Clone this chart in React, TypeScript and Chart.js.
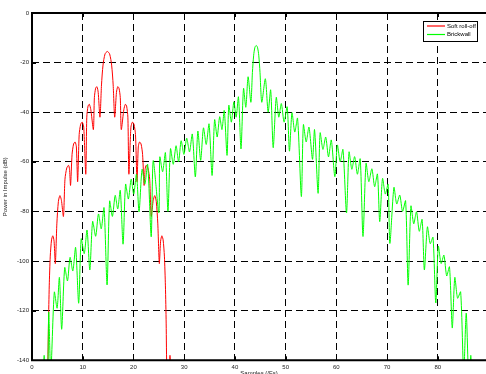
import React, { useEffect, useRef } from "react";
import { Chart, registerables } from "chart.js";

Chart.register(...registerables);

const xTicks = [0, 10, 20, 30, 40, 50, 60, 70, 80];
const yTicks = [-140, -120, -100, -80, -60, -40, -20, 0];
const seriesLabels = ["Soft roll-off", "Brickwall"];
const xTitle = "Samples (/Fs)";
const yTitle = "Power in Impulse (dB)";

// Soft roll-off (red)
const softX = [
  3.1, 3.25, 3.4, 3.6, 3.85, 4.1, 4.35, 4.6,
  4.9, 5.2, 5.5, 5.8, 6.2,
  6.5, 6.85, 7.2, 7.4, 7.6,
  7.9, 8.2, 8.5, 8.75, 9.0,
  9.3, 9.6, 9.9, 10.2, 10.6,
  10.8, 11.05, 11.3, 11.6, 12.1,
  12.3, 12.55, 12.8, 13.05, 13.4,
  13.7, 14.0, 14.4, 14.85, 15.3, 15.7, 16.0, 16.3,
  16.65, 16.9, 17.15, 17.4, 17.6,
  18.1, 18.4, 18.65, 18.9, 19.1,
  19.5, 19.8, 20.1, 20.4, 20.7,
  20.95, 21.2, 21.5, 21.8, 22.1,
  22.3, 22.5, 22.85, 23.2, 23.5,
  23.9, 24.2, 24.5, 24.8, 25.1,
  25.35, 25.6, 25.85, 26.1, 26.3, 26.45, 26.6,
  27.0, 27.2, 27.4,
];
const softY = [
  -145, -125, -110, -98, -91.5, -89.8, -92, -101,
  -85, -76, -73.6, -75.5, -82,
  -67, -62.5, -61.4, -63, -69.5,
  -57, -52.8, -52, -54, -68,
  -49, -44.8, -44, -46, -65,
  -42, -37.5, -36.8, -39, -47,
  -34, -30.3, -29.7, -32, -42,
  -29, -21, -16.5, -15.5, -16.5, -21, -29, -42,
  -32, -29.7, -30.3, -34, -47,
  -39, -36.8, -37.5, -42, -65,
  -46, -44, -44.8, -49, -68,
  -54, -52, -52.8, -57, -69.5,
  -63, -61.4, -62.5, -67, -82,
  -75.5, -73.6, -76, -85, -101,
  -92, -89.8, -91.5, -98, -110, -125, -145,
  -152, -138, -152,
];

// Brickwall (green)
const brickX = [
  2.2, 2.4, 2.6,
  3.1, 3.3, 3.7,
  4.4, 4.95, 5.4, 5.85, 6.45, 7.0, 7.5, 8.05, 8.6, 9.2,
  9.7, 10.3, 10.85, 11.4, 11.95, 12.55, 13.1, 13.65, 14.2, 14.8,
  15.3, 15.85, 16.4, 16.9, 17.4, 17.95, 18.45, 19.0, 19.55, 20.05,
  20.6, 21.1, 21.7, 22.25, 22.8, 23.5, 23.9, 25.0, 25.2, 25.75,
  26.3, 26.8, 27.3, 27.85, 28.4, 28.9, 29.4, 29.95, 30.5, 31.05,
  31.6, 32.2, 32.7, 33.25, 33.8, 34.35, 34.9, 35.5, 36.0, 36.5,
  37.0, 37.45, 37.9, 38.45, 38.8, 39.3, 39.8, 40.25, 40.7, 41.2,
  41.7, 42.15, 42.6, 43.15,
  43.45, 43.7, 43.95, 44.2, 44.45, 44.7, 44.95, 45.3,
  46.0, 46.55, 47.05, 47.55, 48.15, 48.65, 49.15, 49.7, 50.3, 50.75,
  51.25, 51.8, 52.35, 53.1, 53.5, 54.05, 54.6, 55.3, 55.7, 56.4,
  56.8, 57.35, 57.9, 58.45, 59.0, 59.7, 60.2, 60.75, 61.3, 62.0,
  62.5, 63.05, 63.6, 64.15, 64.7, 65.25, 65.85, 66.4, 67.0, 67.55,
  68.1, 68.55, 69.1, 69.65, 70.2, 70.55, 71.35, 71.9, 72.5, 73.05,
  73.65, 74.15, 74.7, 75.25, 75.8, 76.35, 76.9, 77.35, 77.95, 78.5,
  79.05, 79.6, 80.1, 80.65, 81.2, 81.75, 82.3, 82.85, 83.35, 83.9,
  84.5, 85.1, 85.6, 86.1,
  86.35, 86.5, 86.65,
];
const brickY = [
  -152, -138, -152,
  -145, -120.5, -145,
  -112.5, -119, -106.6, -127.5, -102.6, -108, -98.5, -104, -94.5, -117,
  -91, -97, -87.5, -103.6, -84, -90, -81, -87, -78.5, -109.6,
  -75.8, -82, -73.5, -79, -71.5, -93.2, -69, -75, -67, -73,
  -65, -80.2, -63, -69, -61, -90.2, -59.5, -80.6, -58, -64,
  -56.3, -80, -54.7, -61, -53.5, -60, -51.5, -57, -50.5, -56,
  -48.8, -66.1, -47.6, -59.4, -46.3, -53, -44.7, -65.5, -43, -50,
  -41.8, -47, -39.3, -57.4, -37.2, -44, -35.8, -42, -33.8, -54.8,
  -30.4, -38, -25.7, -36,
  -24, -17, -13.8, -13.1, -13.8, -17, -24, -36,
  -26.5, -40, -31, -54.3, -34, -42, -36.5, -44, -37.8, -55.7,
  -40.2, -48, -42.4, -74, -45, -52, -46, -59, -47, -72.7,
  -48.3, -55, -50, -58, -51.2, -66, -53.2, -60, -55, -80.6,
  -56, -63, -57.9, -65, -58.8, -90.1, -60.6, -68, -62.8, -70,
  -64.9, -84.1, -66.7, -73, -69, -92.9, -70.3, -77, -73.4, -80,
  -75.7, -109.7, -77.8, -85, -80.1, -88, -83.2, -103.6, -86.2, -93,
  -90.4, -116.9, -94, -101, -97.6, -106, -102.3, -127, -106.6, -115,
  -112.4, -145, -121, -150,
  -152, -138, -152,
];

const FONT = '"Liberation Sans", Arial, sans-serif';

const framePlugin = {
  id: "frame",
  afterDatasetsDraw(chart: any) {
    const { ctx, chartArea: a, scales } = chart;
    ctx.save();
    ctx.strokeStyle = "#000";
    ctx.lineWidth = 1;
    ctx.beginPath();
    for (const v of xTicks) {
      const px = Math.round(scales.x.getPixelForValue(v)) + 0.5;
      ctx.moveTo(px, a.bottom);
      ctx.lineTo(px, a.bottom - 4);
      ctx.moveTo(px, a.top);
      ctx.lineTo(px, a.top + 4);
    }
    for (const v of yTicks) {
      const py = Math.round(scales.y.getPixelForValue(v)) + 0.5;
      ctx.moveTo(a.left, py);
      ctx.lineTo(a.left + 4, py);
    }
    ctx.stroke();
    ctx.lineWidth = 2;
    ctx.beginPath();
    ctx.moveTo(a.right + 2, a.top);
    ctx.lineTo(a.left, a.top);
    ctx.lineTo(a.left, a.bottom);
    ctx.lineTo(a.right + 2, a.bottom);
    ctx.stroke();
    ctx.restore();
  },
};

const legendPlugin = {
  id: "boxLegend",
  afterDraw(chart: any) {
    const { ctx, chartArea: a } = chart;
    const x0 = Math.round(a.right - 63.5);
    const y0 = Math.round(a.top + 7.5);
    const w = 54;
    const h = 20;
    ctx.save();
    ctx.fillStyle = "#fff";
    ctx.fillRect(x0, y0, w, h);
    ctx.strokeStyle = "#000";
    ctx.lineWidth = 1;
    ctx.strokeRect(x0 + 0.5, y0 + 0.5, w, h);
    chart.data.datasets.forEach((ds: any, i: number) => {
      const y = y0 + 5 + i * 8.5;
      ctx.strokeStyle = ds.borderColor;
      ctx.lineWidth = 1.2;
      ctx.beginPath();
      ctx.moveTo(x0 + 4, y);
      ctx.lineTo(x0 + 22, y);
      ctx.stroke();
      ctx.fillStyle = "#000";
      ctx.font = `6px ${FONT}`;
      ctx.textBaseline = "middle";
      ctx.textAlign = "left";
      ctx.fillText(ds.label, x0 + 24, y);
    });
    ctx.restore();
  },
};

export default function App() {
  const canvasRef = useRef<HTMLCanvasElement | null>(null);

  useEffect(() => {
    const canvas = canvasRef.current;
    if (!canvas) return;
    const softData = softX.map((x, i) => ({ x, y: softY[i] }));
    const brickData = brickX.map((x, i) => ({ x, y: brickY[i] }));
    const chart = new Chart(canvas, {
      type: "line",
      data: {
        datasets: [
          {
            label: seriesLabels[0],
            data: softData,
            borderColor: "#ff0000",
            borderWidth: 1,
            pointRadius: 0,
            tension: 0.25,
            fill: false,
            order: 1,
          },
          {
            label: seriesLabels[1],
            data: brickData,
            borderColor: "#00ff00",
            borderWidth: 1,
            pointRadius: 0,
            tension: 0.25,
            fill: false,
            order: 0,
          },
        ],
      },
      options: {
        animation: false,
        responsive: false,
        devicePixelRatio: 1,
        layout: { padding: { left: 0, right: 0, top: 13, bottom: 0 } },
        plugins: {
          legend: { display: false },
          tooltip: { enabled: false },
        },
        scales: {
          x: {
            type: "linear",
            min: 0,
            max: 89.5,
            afterBuildTicks: (s: any) => {
              s.ticks = xTicks.map((v) => ({ value: v }));
            },
            afterFit: (s: any) => {
              s.height = 13.7;
            },
            grid: { color: "#000", lineWidth: 1, drawTicks: false },
            border: { display: false, dash: [7, 4] },
            ticks: {
              font: { family: FONT, size: 6 },
              color: "#222",
              padding: 3,
              maxRotation: 0,
              callback: (v: any) => String(v),
            },
            title: {
              display: true,
              text: xTitle,
              font: { family: FONT, size: 6 },
              color: "#222",
              padding: { top: 0, bottom: -3 },
            },
          },
          y: {
            type: "linear",
            min: -140,
            max: 0,
            afterBuildTicks: (s: any) => {
              s.ticks = yTicks.map((v) => ({ value: v }));
            },
            afterFit: (s: any) => {
              s.width = 32;
            },
            grid: { color: "#000", lineWidth: 1, drawTicks: false },
            border: { display: false, dash: [7, 4] },
            ticks: {
              font: { family: FONT, size: 6 },
              color: "#222",
              padding: 3,
              callback: (v: any) => String(v),
            },
            title: {
              display: true,
              text: yTitle,
              font: { family: FONT, size: 6 },
              color: "#222",
              padding: { top: 1.5, bottom: 0 },
            },
          },
        },
      },
      plugins: [framePlugin, legendPlugin],
    });
    return () => chart.destroy();
  }, []);

  return (
    <div style={{ position: "absolute", left: 0, top: 0, width: 486, height: 374, background: "#fff" }}>
      <canvas ref={canvasRef} width={486} height={374} style={{ display: "block" }} />
    </div>
  );
}
